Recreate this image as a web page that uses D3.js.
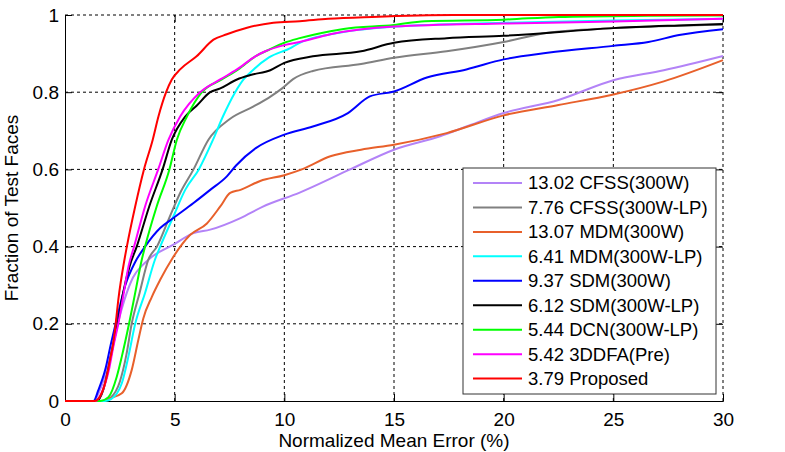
<!DOCTYPE html>
<html>
<head>
<meta charset="utf-8">
<script src="https://cdn.jsdelivr.net/npm/d3@7"></script>
<style>
  body { margin: 0; background: #fff; }
  svg { display: block; font-family: "Liberation Sans", Arial, Helvetica, sans-serif; }
  .grid line { stroke: #000; stroke-width: 1; stroke-dasharray: 3,3; }
  .tick-label { font-size: 19px; fill: #000; }
  .axis-title { font-size: 19px; fill: #000; }
  .legend-label { font-size: 18.5px; fill: #000; }
</style>
</head>
<body>
<div id="chart-container"></div>
<script>
// Chart size and plot box
const width = 785;
const height = 452;
const margin = { left: 65, right: 62, top: 15, bottom: 51 };

// Axis ticks
const xTicks = [0, 5, 10, 15, 20, 25, 30];
const yTicks = [0, 0.2, 0.4, 0.6, 0.8, 1];

// Series names (legend order = drawing order)
const names = [
  "13.02 CFSS(300W)",
  "7.76 CFSS(300W-LP)",
  "13.07 MDM(300W)",
  "6.41 MDM(300W-LP)",
  "9.37 SDM(300W)",
  "6.12 SDM(300W-LP)",
  "5.44 DCN(300W-LP)",
  "5.42 3DDFA(Pre)",
  "3.79 Proposed"
];
const colors = ["#b383f7", "#808080", "#e8602b", "#00ffff", "#0000ff", "#000000", "#00ff00", "#ff00ff", "#ff0000"];

// CED curves, [error, fraction]
const cfss300w = [[0,0],[1.3,0],[1.6,0.03],[1.9,0.08],[2.2,0.15],[2.45,0.21],[2.71,0.262],[3.1,0.32],[3.5,0.35],[3.88,0.37],[4.94,0.405],[5.86,0.435],[6.62,0.444],[8,0.474],[9,0.503],[10.7,0.54],[13,0.6],[15,0.651],[17.1,0.686],[18.3,0.711],[20,0.746],[22.5,0.78],[25,0.831],[27.3,0.857],[30,0.894]];
const cfssLP = [[0,0],[1.7,0],[2.1,0.01],[2.5,0.05],[2.8,0.12],[3.04,0.2],[3.4,0.28],[3.8,0.366],[4.19,0.4],[4.72,0.47],[5.25,0.539],[5.86,0.6],[6.54,0.677],[7.5,0.73],[8.6,0.763],[9.4,0.79],[9.9,0.81],[10.4,0.834],[11.3,0.855],[13.5,0.873],[15,0.889],[17.4,0.906],[20,0.93],[22,0.954],[25,0.966],[30,0.975]];
const mdm300w = [[0,0],[1.8,0],[1.96,0.005],[2.59,0.02],[3.04,0.08],[3.35,0.16],[3.57,0.214],[3.96,0.27],[4.34,0.314],[4.9,0.37],[5.7,0.43],[6.47,0.46],[7.08,0.504],[7.53,0.539],[8,0.547],[8.9,0.57],[10,0.585],[10.8,0.6],[12.1,0.634],[13.5,0.651],[15,0.664],[17.4,0.694],[20,0.74],[22.5,0.767],[25,0.794],[27.3,0.828],[30,0.883]];
const mdmLP = [[0,0],[1.8,0],[2.1,0.005],[2.59,0.046],[2.89,0.115],[3.2,0.2],[3.65,0.28],[4.1,0.366],[4.34,0.4],[4.94,0.478],[5.48,0.547],[6.1,0.6],[6.75,0.677],[7.2,0.737],[7.76,0.8],[8.14,0.833],[8.6,0.859],[9.3,0.89],[10.3,0.915],[10.7,0.928],[12.1,0.95],[15,0.97],[20,0.98],[25,0.986],[30,0.99]];
const sdm300w = [[0,0],[1.3,0],[1.52,0.028],[1.83,0.08],[2.1,0.15],[2.35,0.21],[2.75,0.3],[3.2,0.36],[3.65,0.4],[4.34,0.448],[4.94,0.474],[5.86,0.513],[6.62,0.547],[7.38,0.582],[7.8,0.61],[8.7,0.655],[10,0.69],[11.3,0.711],[12.9,0.746],[13.9,0.789],[15,0.802],[16.5,0.838],[18.3,0.859],[20,0.885],[22,0.902],[25,0.92],[26.6,0.93],[28,0.948],[30,0.963]];
const sdmLP = [[0,0],[1.45,0],[1.75,0.03],[2,0.09],[2.25,0.16],[2.4,0.2],[2.65,0.28],[2.95,0.35],[3.27,0.4],[3.84,0.504],[4.45,0.6],[4.87,0.677],[5.48,0.737],[6,0.765],[6.62,0.8],[7.08,0.81],[7.84,0.833],[8.5,0.845],[9.36,0.857],[10,0.876],[11.3,0.893],[13.5,0.906],[15,0.928],[17.4,0.94],[20,0.946],[25,0.966],[28,0.973],[30,0.977]];
const dcnLP = [[0,0],[1.6,0],[1.98,0.01],[2.36,0.063],[2.59,0.115],[2.92,0.2],[3.2,0.28],[3.5,0.366],[3.65,0.4],[4.18,0.504],[4.76,0.6],[5.1,0.677],[5.56,0.737],[6.24,0.8],[7.15,0.833],[7.9,0.859],[8.68,0.893],[9.3,0.91],[10,0.928],[10.7,0.94],[12.1,0.958],[12.7,0.964],[15,0.974],[16.4,0.984],[20,0.988],[22.5,0.995],[26.6,0.998],[30,0.999]];
const ddfaPre = [[0,0],[1.4,0],[1.7,0.025],[2,0.08],[2.2,0.14],[2.43,0.2],[2.65,0.27],[2.9,0.35],[3.15,0.4],[3.65,0.504],[4.25,0.6],[4.72,0.677],[5.25,0.737],[6.16,0.8],[7.08,0.833],[7.84,0.859],[8.68,0.893],[9.13,0.906],[10,0.922],[10.7,0.93],[12.1,0.95],[15,0.97],[20,0.978],[25,0.983],[30,0.99]];
const proposed = [[0,0],[1.35,0],[1.67,0.02],[1.9,0.063],[2.05,0.106],[2.2,0.15],[2.31,0.2],[2.43,0.262],[2.71,0.366],[2.82,0.4],[3.2,0.504],[3.6,0.6],[4,0.677],[4.26,0.737],[4.61,0.8],[4.87,0.833],[5.25,0.859],[6,0.893],[6.77,0.936],[7.38,0.95],[8.3,0.967],[9.5,0.98],[10.7,0.984],[12,0.99],[14,0.995],[17.7,1],[30,1]];

const series = [cfss300w, cfssLP, mdm300w, mdmLP, sdm300w, sdmLP, dcnLP, ddfaPre, proposed];

// Scales
const x = d3.scaleLinear().domain([0, 30]).range([margin.left, width - margin.right]);
const y = d3.scaleLinear().domain([0, 1]).range([height - margin.bottom, margin.top]);

const svg = d3.select("#chart-container")
    .append("svg")
    .attr("width", width)
    .attr("height", height);

svg.append("rect").attr("width", width).attr("height", height).attr("fill", "#fff");

// Dotted grid (also forms the top and right edge)
const grid = svg.append("g").attr("class", "grid");
grid.selectAll(".gx")
    .data(xTicks.filter(d => d > 0))
    .join("line")
    .attr("x1", d => x(d)).attr("x2", d => x(d))
    .attr("y1", y(0)).attr("y2", y(1));
grid.selectAll(".gy")
    .data(yTicks.filter(d => d > 0))
    .join("line")
    .attr("class", "gy")
    .attr("x1", x(0)).attr("x2", x(30))
    .attr("y1", d => y(d)).attr("y2", d => y(d));

// Axes: ticks pointing inward, labels outside
const tickLen = 7;
const xAxis = d3.axisBottom(x).tickValues(xTicks).tickSize(-tickLen).tickPadding(10).tickFormat(d3.format("d"));
const yAxis = d3.axisLeft(y).tickValues(yTicks).tickSize(-tickLen).tickPadding(6).tickFormat(d => d === 0 || d === 1 ? d : d3.format(".1f")(d));

const gx = svg.append("g").attr("transform", `translate(0,${y(0)})`).call(xAxis);
const gy = svg.append("g").attr("transform", `translate(${x(0)},0)`).call(yAxis);
[gx, gy].forEach(g => {
    g.select(".domain").attr("stroke", "#000").attr("stroke-width", 1);
    g.selectAll(".tick line").attr("stroke", "#000");
    g.selectAll(".tick text").attr("class", "tick-label").attr("font-family", null).attr("font-size", null);
});
gx.selectAll(".tick text").attr("dy", "0.78em");

// Ticks on top and right edges
svg.append("g").attr("transform", `translate(0,${y(1)})`)
    .call(d3.axisTop(x).tickValues(xTicks).tickSize(-tickLen).tickFormat(""))
    .call(g => g.select(".domain").remove())
    .call(g => g.selectAll(".tick line").attr("stroke", "#000"));
svg.append("g").attr("transform", `translate(${x(30)},0)`)
    .call(d3.axisRight(y).tickValues(yTicks).tickSize(-tickLen).tickFormat(""))
    .call(g => g.select(".domain").remove())
    .call(g => g.selectAll(".tick line").attr("stroke", "#000"));

// Curves
const line = d3.line()
    .x(d => x(d[0]))
    .y(d => y(d[1]))
    .curve(d3.curveMonotoneX);

svg.append("g")
    .selectAll("path")
    .data(series)
    .join("path")
    .attr("d", line)
    .attr("fill", "none")
    .attr("stroke", (d, i) => colors[i])
    .attr("stroke-width", 2)
    .attr("stroke-linejoin", "round");

// Axis titles
svg.append("text")
    .attr("class", "axis-title")
    .attr("x", (x(0) + x(30)) / 2)
    .attr("y", 447)
    .attr("text-anchor", "middle")
    .text("Normalized Mean Error (%)");

svg.append("text")
    .attr("class", "axis-title")
    .attr("transform", `translate(18,${(y(0) + y(1)) / 2}) rotate(-90)`)
    .attr("text-anchor", "middle")
    .text("Fraction of Test Faces");

// Legend
const legend = svg.append("g").attr("transform", "translate(463,168)");
legend.append("rect")
    .attr("width", 253)
    .attr("height", 226)
    .attr("fill", "#fff")
    .attr("stroke", "#333")
    .attr("stroke-width", 1);

const rowStep = 24.45;
const rows = legend.selectAll(".row")
    .data(names)
    .join("g")
    .attr("transform", (d, i) => `translate(0,${15 + i * rowStep})`);
rows.append("line")
    .attr("x1", 10).attr("x2", 59)
    .attr("stroke", (d, i) => colors[i])
    .attr("stroke-width", 2);
rows.append("text")
    .attr("class", "legend-label")
    .attr("x", 65)
    .attr("dy", "0.35em")
    .text(d => d);
</script>
</body>
</html>
